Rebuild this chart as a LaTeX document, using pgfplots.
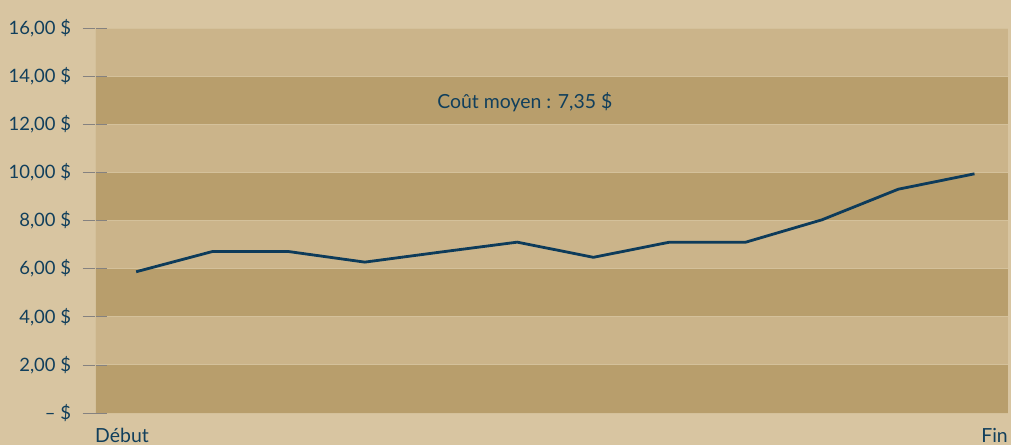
\documentclass[border=0pt]{standalone}
\usepackage{pgfplots}
\pgfplotsset{compat=1.18}
\usepackage{fontspec}
\setmainfont{Lato}
\definecolor{bg}{HTML}{D8C5A1}
\definecolor{lightb}{HTML}{CBB48A}
\definecolor{darkb}{HTML}{B89E6C}
\definecolor{gridc}{HTML}{D4C19B}
\definecolor{tickc}{HTML}{858280}
\definecolor{navy}{HTML}{0D3B5A}
\definecolor{txt}{HTML}{113F5C}
\pgfplotsset{layers/mylayers/.define layer set={bottom,axis background,axis grid,axis ticks,axis lines,axis tick labels,pre main,main,axis descriptions,axis foreground}{}}
\begin{document}
\begin{tikzpicture}
\begin{axis}[at={(0,0)}, anchor=south west, scale only axis,
  width=913bp, height=385bp,
  xmin=-0.54, xmax=11.44, ymin=0, ymax=16,
  set layers=mylayers,
  axis x line*=bottom,
  axis y line*=left,
  x axis line style={draw=none},
  y axis line style={draw=gridc, line width=0.8bp, -},
  ytick={0,2,4,6,8,10,12,14,16},
  yticklabels={– \$, {2,00 \$}, {4,00 \$}, {6,00 \$}, {8,00 \$}, {10,00 \$}, {12,00 \$}, {14,00 \$}, {16,00 \$}},
  xtick={0,11},
  xticklabels={},
  xtick style={draw=none},
  ymajorgrids,
  grid style={draw=gridc, line width=0.8bp},
  tick align=center,
  major tick length=25bp,
  ytick style={draw=tickc, line width=0.7bp},
  yticklabel style={text=txt, font=\fontsize{18.5}{18.5}\selectfont, xshift=-8bp},
  clip=false,
]
\begin{pgfonlayer}{bottom}
\fill[bg] ([shift={(-95bp,-32bp)}]rel axis cs:0,0) rectangle ([shift={(3bp,28bp)}]rel axis cs:1,1);
\end{pgfonlayer}
\begin{pgfonlayer}{axis background}
\fill[lightb] (axis cs:-0.54,0) rectangle (axis cs:11.44,16);
\fill[darkb] (axis cs:-0.54,0) rectangle (axis cs:11.44,2);
\fill[darkb] (axis cs:-0.54,4) rectangle (axis cs:11.44,6);
\fill[darkb] (axis cs:-0.54,8) rectangle (axis cs:11.44,10);
\fill[darkb] (axis cs:-0.54,12) rectangle (axis cs:11.44,14);
\end{pgfonlayer}
\addplot[color=navy, line width=2.8bp] coordinates {
(0,5.87) (1,6.71) (2,6.71) (3,6.27) (4,6.69) (5,7.10) (6,6.47) (7,7.10) (8,7.10) (9,8.03) (10,9.30) (11,9.94)
};
\node[text=txt, font=\fontsize{19.5}{19.5}\selectfont] at (axis cs:5.1,12.9) {Coût moyen : 7,35 \$};
\node[anchor=base west, inner sep=0pt, text=txt, font=\fontsize{19.5}{19.5}\selectfont] at (rel axis cs:0,0) [yshift=-29bp] {Début};
\node[anchor=base east, inner sep=0pt, text=txt, font=\fontsize{19.5}{19.5}\selectfont] at (rel axis cs:1,0) [yshift=-29bp] {Fin};
\end{axis}
\pgfresetboundingbox
\path[use as bounding box] (-95bp,-32bp) rectangle (916bp,413bp);
\end{tikzpicture}
\end{document}
